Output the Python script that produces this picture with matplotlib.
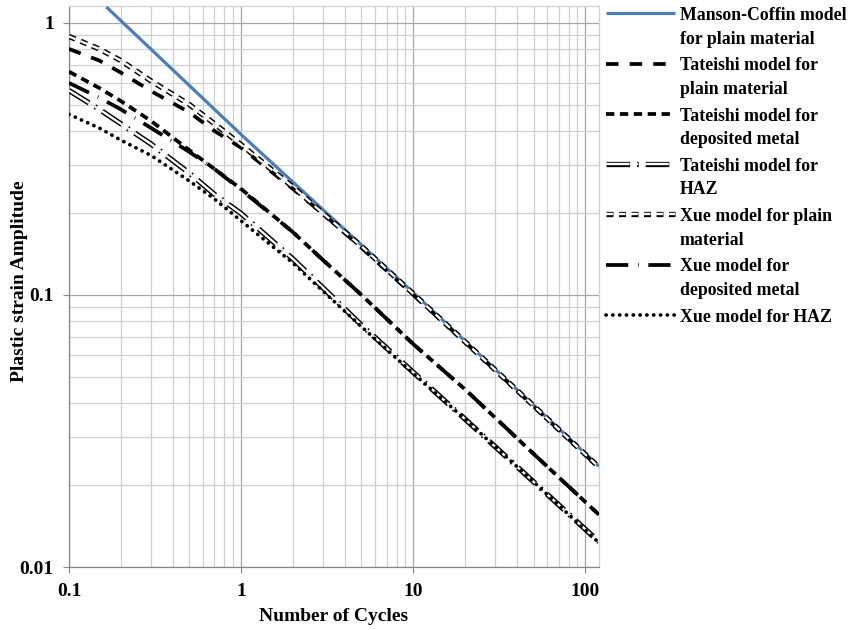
import matplotlib
matplotlib.use("Agg")
import matplotlib.pyplot as plt
import matplotlib.patheffects as pe
from matplotlib.ticker import FixedLocator, FixedFormatter, LogLocator, NullFormatter

# ---------------- data ----------------
cycles = [0.1, 0.15, 0.2, 0.3, 0.5, 0.7, 1, 2, 3, 5, 10, 20, 50, 120]

mc_cycles = [0.165, 1, 10, 120]
manson_coffin_plain = [1.14, 0.388, 0.102, 0.0235]

tateishi_plain = [0.80, 0.725, 0.655, 0.56, 0.468, 0.40, 0.347, 0.245, 0.198, 0.149, 0.100, 0.067, 0.039, 0.0232]
tateishi_deposit = [0.66, 0.575, 0.515, 0.435, 0.34, 0.29, 0.245, 0.17, 0.134, 0.100, 0.066, 0.045, 0.0261, 0.0156]
tateishi_haz = [0.563, 0.48, 0.425, 0.358, 0.28, 0.234, 0.199, 0.1355, 0.106, 0.0775, 0.052, 0.035, 0.0206, 0.0124]
xue_plain = [0.889, 0.80, 0.725, 0.61, 0.50, 0.425, 0.356, 0.249, 0.199, 0.151, 0.101, 0.0673, 0.0392, 0.0233]
xue_deposit = [0.60, 0.53, 0.48, 0.41, 0.335, 0.29, 0.243, 0.17, 0.134, 0.100, 0.066, 0.045, 0.0261, 0.0156]
xue_haz = [0.46, 0.41, 0.37, 0.325, 0.262, 0.225, 0.187, 0.131, 0.103, 0.0765, 0.0515, 0.035, 0.0206, 0.0123]

labels = [
    "Manson-Coffin model\nfor plain material",
    "Tateishi model for\nplain material",
    "Tateishi model for\ndeposited metal",
    "Tateishi model for\nHAZ",
    "Xue model for plain\nmaterial",
    "Xue model for\ndeposited metal",
    "Xue model for HAZ",
]

x_ticks = [0.1, 1, 10, 100]
x_tick_labels = ["0.1", "1", "10", "100"]
y_ticks = [0.01, 0.1, 1]
y_tick_labels = ["0.01", "0.1", "1"]

# ---------------- style ----------------
plt.rcParams["font.family"] = ["Liberation Serif", "DejaVu Serif"]
plt.rcParams["font.weight"] = "bold"
plt.rcParams["lines.scale_dashes"] = False

FS = 14
LFS = 12.8
fig = plt.figure(figsize=(8.54, 6.30), dpi=100)
ax = fig.add_axes([69 / 854, (630 - 567.3) / 630, (599 - 69) / 854, (567.3 - 6) / 630])

outline = [pe.Stroke(linewidth=3.8, foreground="black"), pe.Normal()]

ax.plot(mc_cycles, manson_coffin_plain, color="#4A7EBB", lw=2.3, solid_capstyle="butt",
        label=labels[0], zorder=3)
ax.plot(cycles, tateishi_plain, color="black", lw=2.7, linestyle=(0, (9, 8)),
        label=labels[1], zorder=4)
ax.plot(cycles, tateishi_deposit, color="black", lw=2.7, linestyle=(0, (6, 4)),
        label=labels[2], zorder=4)
ax.plot(cycles, tateishi_haz, color="white", lw=1.7, linestyle=(0, (17, 5, 1.2, 5)),
        path_effects=outline, label=labels[3], zorder=4)
ax.plot(cycles, xue_plain, color="white", lw=1.7, linestyle=(0, (5, 4)),
        path_effects=outline, label=labels[4], zorder=4)
ax.plot(cycles, xue_deposit, color="black", lw=2.7, linestyle=(0, (16, 7, 0.5, 7)),
        label=labels[5], zorder=4)
ax.plot(cycles, xue_haz, color="black", lw=2.7, linestyle=(0, (0.1, 4.8)),
        dash_capstyle="round", label=labels[6], zorder=4)

ax.set_xscale("log")
ax.set_yscale("log")
ax.set_xlim(0.1, 120)
ax.set_ylim(0.01, 1.15)

ax.xaxis.set_major_locator(FixedLocator(x_ticks))
ax.xaxis.set_major_formatter(FixedFormatter(x_tick_labels))
ax.yaxis.set_major_locator(FixedLocator(y_ticks))
ax.yaxis.set_major_formatter(FixedFormatter(y_tick_labels))
ax.xaxis.set_minor_locator(LogLocator(base=10, subs=range(2, 10), numticks=20))
ax.yaxis.set_minor_locator(LogLocator(base=10, subs=range(2, 10), numticks=20))
ax.xaxis.set_minor_formatter(NullFormatter())
ax.yaxis.set_minor_formatter(NullFormatter())

ax.grid(which="major", color="#a6a6a6", lw=0.9)
ax.grid(which="minor", color="#d0d0d0", lw=0.9)
ax.set_axisbelow(True)

ax.tick_params(which="major", direction="out", length=4, width=0.8, color="#868686",
               labelsize=FS, pad=7)
ax.tick_params(which="minor", length=0)
for s in ["left", "bottom"]:
    ax.spines[s].set_color("#868686")
    ax.spines[s].set_linewidth(0.9)
for s in ["top", "right"]:
    ax.spines[s].set_color("#d0d0d0")
    ax.spines[s].set_linewidth(0.9)

ax.set_xlabel("Number of Cycles", fontsize=FS, fontweight="bold")
ax.set_ylabel("Plastic strain Amplitude", fontsize=FS, fontweight="bold")
ax.xaxis.set_label_coords(0.5, -0.073)
ax.yaxis.set_label_coords(-0.077, 0.51)

leg = fig.legend(loc="upper left", bbox_to_anchor=(606 / 854, 1 - 7 / 630),
                 frameon=False, fontsize=LFS, handlelength=3.9, handletextpad=0.25,
                 labelspacing=0.55, borderaxespad=0, borderpad=0)
for t in leg.get_texts():
    t.set_linespacing(1.5)
for col in leg._legend_handle_box.get_children():
    for hp in col.get_children():
        hp.align = "top"

fig.savefig("out.png", dpi=100)
